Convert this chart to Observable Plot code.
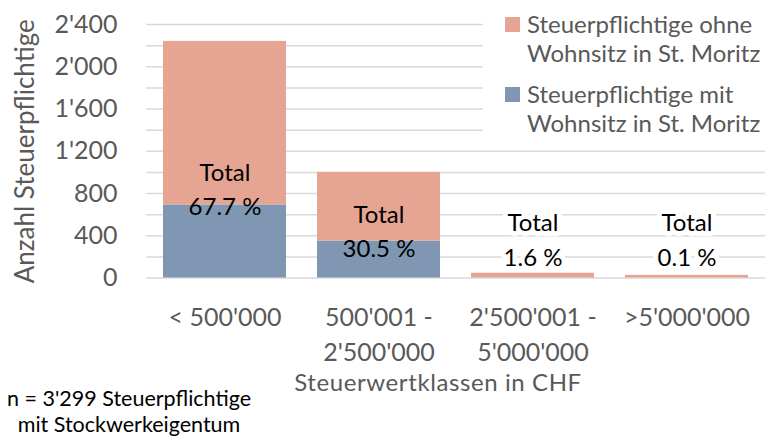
<!DOCTYPE html>
<html><head><meta charset="utf-8">
<script src="https://cdn.jsdelivr.net/npm/d3@7"></script>
<script src="https://cdn.jsdelivr.net/npm/@observablehq/plot@0.6"></script>
<style>
body{margin:0;background:#fff;}
#wrap{position:relative;width:765px;height:437px;font-family:Lato,"Open Sans",sans-serif;overflow:hidden;}
.legend{position:absolute;left:483px;top:0;width:282px;height:140px;background:#fff;color:#595959;font-size:24px;line-height:29px;white-space:nowrap;}
.item{position:absolute;left:44px;}
.sw{position:absolute;left:-22px;top:8px;width:15px;height:15px;}
.foot{position:absolute;left:-2px;top:385px;width:262px;text-align:center;color:#000;font-size:21.5px;line-height:26px;white-space:nowrap;}
.xtitle{letter-spacing:0.6px;}
</style></head><body><div id="wrap"></div>
<script>
const categories = ["< 500'000", "500'001 -\n2'500'000", "2'500'001 -\n5'000'000", ">5'000'000"];
const seriesNames = ["Steuerpflichtige mit Wohnsitz in St. Moritz", "Steuerpflichtige ohne Wohnsitz in St. Moritz"];
const seriesColors = ["#7F97B2", "#E6A493"];
const mitWohnsitz = [692, 350, 0, 0];
const ohneWohnsitz = [1548, 650, 45, 25];
const totalPct = ["67.7 %", "30.5 %", "1.6 %", "0.1 %"];
const labelAt = [860, 460, 385, 385];
const yTicks = [0, 400, 800, 1200, 1600, 2000, 2400];
const gridTicks = d3.range(0, 2401, 200);

const rows = [];
categories.forEach((c, i) => {
  rows.push({cat: c, series: seriesNames[0], value: mitWohnsitz[i]});
  rows.push({cat: c, series: seriesNames[1], value: ohneWohnsitz[i]});
});
const labels = categories.map((c, i) => ({cat: c, text: "Total\n" + totalPct[i], y: labelAt[i], total: mitWohnsitz[i] + ohneWohnsitz[i]}));
const fmt = d3.formatLocale({decimal: ".", thousands: "'", grouping: [3], currency: ["", ""]}).format(",d");

const chart = Plot.plot({
  width: 765, height: 437,
  marginLeft: 146, marginRight: 0, marginTop: 24, marginBottom: 159.5,
  style: {fontFamily: "Lato, 'Open Sans', sans-serif", background: "white"},
  x: {domain: categories, paddingInner: 0.2, paddingOuter: 0.1, label: null},
  y: {domain: [0, 2400], label: null},
  color: {domain: seriesNames, range: seriesColors},
  marks: [
    Plot.gridY(gridTicks, {stroke: "#d9d9d9", strokeOpacity: 1, strokeWidth: 1.5}),
    Plot.barY(rows, {x: "cat", y: "value", fill: "series", order: seriesNames}),
    Plot.axisY(yTicks, {tickSize: 0, tickPadding: 29, tickFormat: fmt, fontSize: 25, fill: "#595959", label: null}),
    Plot.axisX({tickSize: 0, tickPadding: 23, fontSize: 25, fill: "#595959", lineHeight: 1.4, label: null}),
    Plot.text(labels.filter(d => d.total < 400), {x: "cat", y: "y", text: "text", fontSize: 24, lineHeight: 1.45, fill: "black", stroke: "white", strokeWidth: 10}),
    Plot.text(labels.filter(d => d.total >= 400), {x: "cat", y: "y", text: "text", fontSize: 24, lineHeight: 1.4, fill: "black"}),
    Plot.text(["Anzahl Steuerpflichtige"], {frameAnchor: "left", textAnchor: "middle", lineAnchor: "middle", rotate: -90, dx: -121, dy: 0, fontSize: 26, fill: "#595959"}),
    Plot.text(["Steuerwertklassen in CHF"], {frameAnchor: "bottom", lineAnchor: "middle", dx: -18, dy: 105.5, fontSize: 24, fill: "#595959", className: "xtitle"})
  ]
});
const wrap = document.getElementById("wrap");
wrap.appendChild(chart);

const legend = document.createElement("div");
legend.className = "legend";
const legendItems = [
  {lines: ["Steuerpflichtige ohne", "Wohnsitz in St. Moritz"], color: seriesColors[1], top: 8.5},
  {lines: ["Steuerpflichtige mit", "Wohnsitz in St. Moritz"], color: seriesColors[0], top: 78.5}
];
legendItems.forEach(it => {
  const d = document.createElement("div");
  d.className = "item";
  d.style.top = it.top + "px";
  d.innerHTML = `<span class="sw" style="background:${it.color}"></span>${it.lines.join("<br>")}`;
  legend.appendChild(d);
});
wrap.appendChild(legend);

const foot = document.createElement("div");
foot.className = "foot";
foot.innerHTML = "n = 3'299 Steuerpflichtige<br>mit Stockwerkeigentum";
wrap.appendChild(foot);
</script>
</body></html>
